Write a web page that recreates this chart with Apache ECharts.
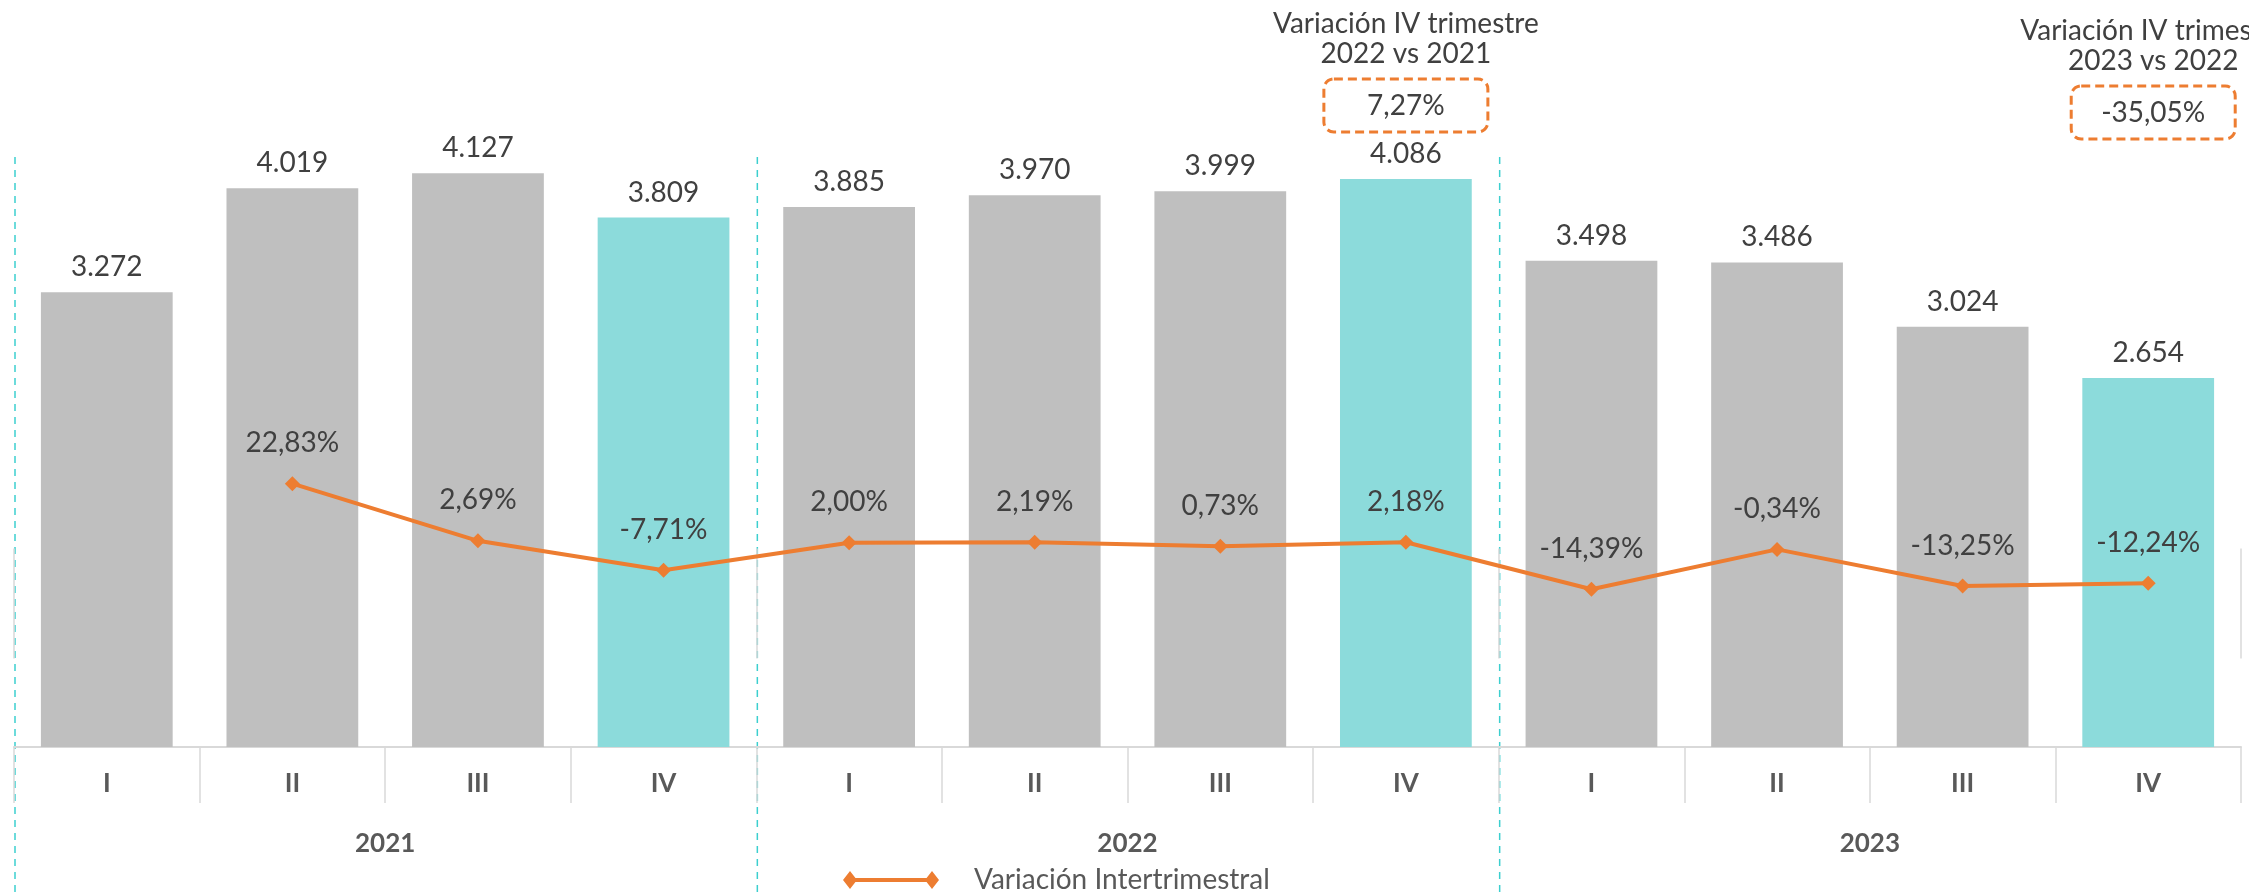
<!DOCTYPE html>
<html>
<head>
<meta charset="utf-8">
<script src="https://cdn.jsdelivr.net/npm/echarts@6/dist/echarts.min.js"></script>
<style>
    html, body { margin: 0; padding: 0; background: #fff; }
    #main { width: 2249px; height: 893px; }
</style>
</head>
<body>
<div id="main"></div>
<script>
    // datos
    var quarters = ['I', 'II', 'III', 'IV', 'I', 'II', 'III', 'IV', 'I', 'II', 'III', 'IV'];
    var years = ['2021', '2022', '2023'];
    var totals = [3272, 4019, 4127, 3809, 3885, 3970, 3999, 4086, 3498, 3486, 3024, 2654];
    var variacion = [null, 22.83, 2.69, -7.71, 2.00, 2.19, 0.73, 2.18, -14.39, -0.34, -13.25, -12.24];
    var highlight = [3, 7, 11];          // IV trimestre en color
    var notaIdx = [7, 11];
    var notaTitulo = ['Variación IV trimestre\n2022 vs 2021', 'Variación IV trimestre\n2023 vs 2022'];
    var notaValor = [7.27, -35.05];

    var FONT = 'Lato, "Noto Sans", sans-serif';
    var GRAY = '#BFBFBF', CYAN = '#8CDBDB', ORANGE = '#ED7D31';

    function miles(v) {
        return String(v).replace(/\B(?=(\d{3})+(?!\d))/g, '.');
    }
    function pct(v) {
        return v.toFixed(2).replace('.', ',') + '%';
    }

    var barData = totals.map(function (v, i) {
        return { value: v, itemStyle: { color: highlight.indexOf(i) > -1 ? CYAN : GRAY } };
    });

    var chart = echarts.init(document.getElementById('main'));
    var option = {
        animation: false,
        textStyle: { fontFamily: FONT },
        grid: { left: 14, right: 8, top: 52, bottom: 146, containLabel: false },
        legend: {
            data: ['Variación Intertrimestral'],
            left: 838,
            top: 861,
            itemWidth: 96,
            itemHeight: 18,
            itemGap: 10,
            icon: 'path://M0,9 L7,0 L14,9 L7,18 Z M7,7 L89,7 L89,11 L7,11 Z M82,9 L89,0 L96,9 L89,18 Z',
            textStyle: { fontSize: 28, color: '#595959', fontFamily: FONT, padding: [0, 0, 0, 30] }
        },
        xAxis: [
            {
                type: 'category',
                data: quarters,
                position: 'bottom',
                axisLine: { lineStyle: { color: '#D9D9D9', width: 2 } },
                axisTick: { show: true, interval: 0, length: 56, lineStyle: { color: '#D9D9D9', width: 1.5 } },
                axisLabel: { interval: 0, margin: 24, fontSize: 26, fontWeight: 'bold', color: '#595959', fontFamily: FONT }
            },
            {
                type: 'category',
                data: years,
                position: 'bottom',
                axisLine: { show: false },
                axisTick: { show: true, interval: 0, length: 110, lineStyle: { color: '#D9D9D9', width: 1.5 } },
                axisLabel: { interval: 0, margin: 84, fontSize: 26, fontWeight: 'bold', color: '#595959', fontFamily: FONT }
            }
        ],
        yAxis: [
            { type: 'value', min: 0, max: 5000, show: false, splitLine: { show: false } },
            { type: 'value', min: -70, max: 175, show: false, splitLine: { show: false } }
        ],
        series: [
            {
                type: 'bar',
                data: barData,
                barCategoryGap: '29%',
                label: {
                    show: true, position: 'top', distance: 11,
                    fontSize: 28, color: '#404040', fontFamily: FONT,
                    formatter: function (p) { return miles(p.value); }
                }
            },
            {
                name: 'Variación Intertrimestral',
                type: 'line',
                yAxisIndex: 1,
                data: variacion,
                symbol: 'diamond',
                symbolSize: 15,
                showAllSymbol: true,
                itemStyle: { color: ORANGE },
                lineStyle: { color: ORANGE, width: 4 },
                label: {
                    show: true, position: 'top', distance: 19,
                    fontSize: 28, color: '#404040', fontFamily: FONT,
                    formatter: function (p) { return p.value == null ? '' : pct(p.value); }
                },
                z: 5
            }
        ]
    };
    chart.setOption(option);

    // lineas discontinuas de separacion de años y notas
    var x0 = chart.convertToPixel({ xAxisIndex: 0 }, 0);
    var x1 = chart.convertToPixel({ xAxisIndex: 0 }, 1);
    var step = x1 - x0;
    var graphics = [];
    [0, 4, 8].forEach(function (b) {
        var bx = x0 - step / 2 + b * step + 1;
        graphics.push({
            type: 'line',
            shape: { x1: bx, y1: 157, x2: bx, y2: 893 },
            style: { stroke: '#3CCFCF', lineWidth: 1.5, lineDash: [7, 6] },
            silent: true
        });
    });
    var notaTop = [79, 86];
    var notaShift = [0, 5];
    notaIdx.forEach(function (idx, k) {
        var cx = chart.convertToPixel({ xAxisIndex: 0 }, idx) + notaShift[k];
        graphics.push({
            type: 'text',
            style: {
                text: notaTitulo[k], x: cx, y: notaTop[k] - 40,
                align: 'center', verticalAlign: 'middle', lineHeight: 30,
                font: '28px ' + FONT, fill: '#404040'
            }
        });
        graphics.push({
            type: 'rect',
            shape: { x: cx - 82, y: notaTop[k], width: 164, height: 53, r: 10 },
            style: { fill: 'none', stroke: ORANGE, lineWidth: 3, lineDash: [9, 5] }
        });
        graphics.push({
            type: 'text',
            style: {
                text: pct(notaValor[k]), x: cx, y: notaTop[k] + 27,
                align: 'center', verticalAlign: 'middle',
                font: '28px ' + FONT, fill: '#404040'
            }
        });
    });
    chart.setOption({ graphic: graphics });
</script>
</body>
</html>
